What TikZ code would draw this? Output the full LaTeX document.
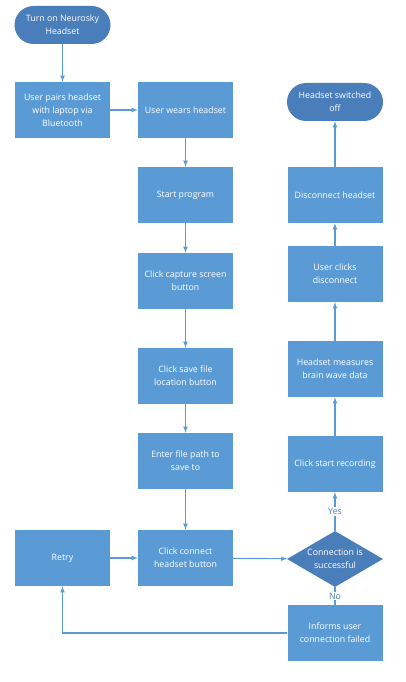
\documentclass[tikz,border=0pt]{standalone}
\usepackage{fontspec}
\setmainfont{Open Sans}
\usepackage{tikz}
\definecolor{boxblue}{HTML}{5B9BD5}
\definecolor{darkblue}{HTML}{4A7EBB}
\tikzset{
    process/.style={rectangle,fill=boxblue,text=white,align=center,minimum width=95pt,minimum height=56pt,inner sep=1pt,font=\fontsize{8.8}{13}\selectfont},
    terminal/.style={rectangle,rounded corners=19pt,fill=darkblue,text=white,align=center,minimum width=96pt,minimum height=38pt,inner sep=1pt,font=\fontsize{8.8}{13}\selectfont},
    decision/.style={diamond,aspect=1.7,fill=darkblue,text=white,align=center,minimum width=96pt,minimum height=56pt,inner sep=0pt,font=\fontsize{8.8}{13}\selectfont},
    flow/.style={draw=boxblue,line width=1.1pt},
    answer/.style={fill=white,text=darkblue,inner sep=1pt,font=\fontsize{8.8}{10}\selectfont},
}
\usetikzlibrary{shapes.geometric}
\usetikzlibrary{positioning}

\begin{document}
\begin{tikzpicture}[>=latex,x=1pt,y=-1pt]
\useasboundingbox (0,0) rectangle (405,682);
% left column
\node[terminal] (start) at (62.5,25) {Turn on Neurosky\\Headset};
\node[process] (pair) at (62.5,110) {User pairs headset\\with laptop via\\Bluetooth} edge [<-,flow] (start);
\node[process] (retry) at (62.5,558) {Retry};
% middle column
\node[process] (wear) at (185.5,110) {User wears headset} edge [<-,flow] (pair);
\node[process] (prog) at (185.5,195) {Start program} edge [<-,flow] (wear);
\node[process] (capture) at (185.5,281) {Click capture screen\\button} edge [<-,flow] (prog);
\node[process] (save) at (185.5,376) {Click save file\\location button} edge [<-,flow] (capture);
\node[process] (enter) at (185.5,461) {Enter file path to\\save to} edge [<-,flow] (save);
\node[process] (connect) at (185.5,558) {Click connect\\headset button} edge [<-,flow] (enter) edge [<-,flow] (retry);
% right column
\node[decision] (ok) at (335,559) {Connection is\\successful} edge [<-,flow] (connect);
\node[process] (failed) at (335,633) {Informs user\\connection failed};
\node[process] (record) at (335,464) {Click start recording};
\node[process] (measure) at (335,369) {Headset measures\\brain wave data} edge [<-,flow] (record);
\node[process] (clickoff) at (335,274) {User clicks\\disconnect} edge [<-,flow] (measure);
\node[process] (disc) at (335,195) {Disconnect headset} edge [<-,flow] (clickoff);
\node[terminal] (off) at (335,102) {Headset switched\\off} edge [<-,flow] (disc);
\draw[->,flow] (ok) -- node[answer] {Yes} (record);
\draw[flow] (ok) -- node[answer] {No} (failed);
\draw[->,flow] (failed) -| (retry);
\end{tikzpicture}
\end{document}
